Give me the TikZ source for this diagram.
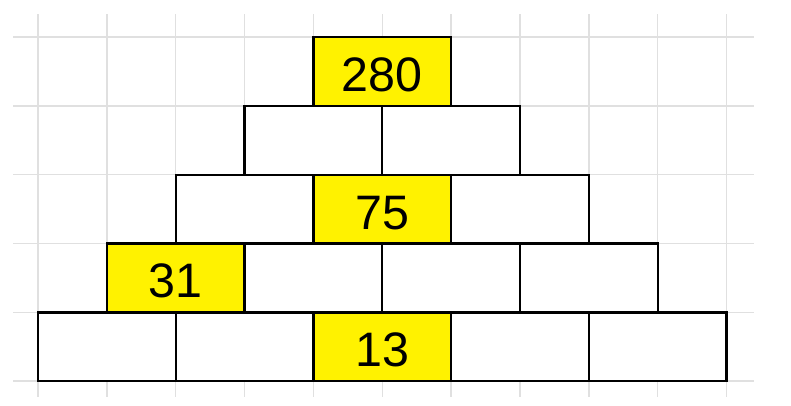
\documentclass[tikz,border=0pt]{standalone}
\usepackage{fontspec}
\setmainfont{Liberation Sans}
\usepackage{tikz}
\def\numsize{\fontsize{20}{24}\selectfont}

\begin{document}
\begin{tikzpicture}[
    brick/.style={draw=black, line width=0.95pt, fill=white, inner sep=0pt,
      minimum width=2cm, minimum height=1cm},
    given/.style={brick, fill=yellow, font=\numsize, text height=16.5pt, text depth=0pt},
    gridline/.style={draw=black!12, line width=0.6pt}]
      \useasboundingbox (-0.552, -0.346) rectangle (10.937, 5.537);

      % sheet grid
      \draw [gridline] (-0.36, 0) -- (10.4, 0) (-0.36, 1) -- (10.4, 1) (-0.36, 2) -- (10.4, 2);
      \draw [gridline] (-0.36, 3) -- (10.4, 3) (-0.36, 4) -- (10.4, 4) (-0.36, 5) -- (10.4, 5);
      \draw [gridline] (0, -0.23) -- (0, 5.33) (1, -0.23) -- (1, 5.33) (2, -0.23) -- (2, 5.33);
      \draw [gridline] (3, -0.23) -- (3, 5.33) (4, -0.23) -- (4, 5.33) (5, -0.23) -- (5, 5.33);
      \draw [gridline] (6, -0.23) -- (6, 5.33) (7, -0.23) -- (7, 5.33) (8, -0.23) -- (8, 5.33);
      \draw [gridline] (9, -0.23) -- (9, 5.33) (10, -0.23) -- (10, 5.33);

      % bottom row
      \node [brick] (e1) at (1, 0.5) {};
      \node [brick] (e2) at (3, 0.5) {};
      \node [given] (e3) at (5, 0.5) {13};
      \node [brick] (e4) at (7, 0.5) {};
      \node [brick] (e5) at (9, 0.5) {};

      \node [given] (d1) at (2, 1.5) {31};
      \node [brick] (d2) at (4, 1.5) {};
      \node [brick] (d3) at (6, 1.5) {};
      \node [brick] (d4) at (8, 1.5) {};

      \node [brick] (c1) at (3, 2.5) {};
      \node [given] (c2) at (5, 2.5) {75};
      \node [brick] (c3) at (7, 2.5) {};

      \node [brick] (b1) at (4, 3.5) {};
      \node [brick] (b2) at (6, 3.5) {};

      % top
      \node [given] (a1) at (5, 4.5) {280};
    \end{tikzpicture}
\end{document}
